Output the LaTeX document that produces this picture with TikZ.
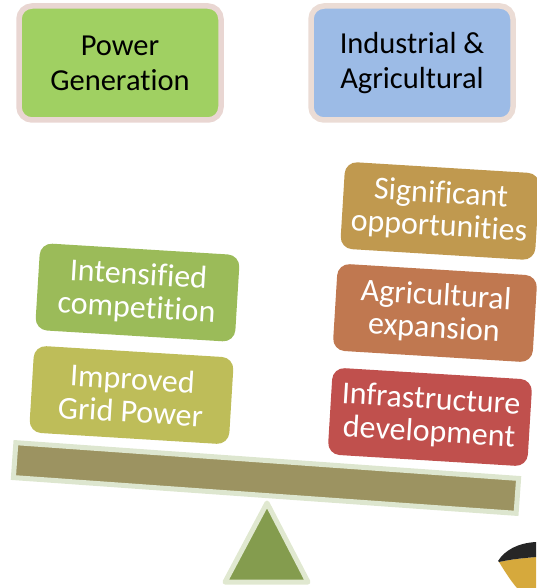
\documentclass[tikz,border=0pt]{standalone}
\usepackage{fontspec}
\setmainfont[RawFeature={-liga}]{Carlito}
\begin{document}
\begin{tikzpicture}[x=1pt,y=-1pt,
  header/.style={draw=#1, line width=5.5pt, rounded corners=13pt, align=center,
    minimum width=202pt, minimum height=114pt, text=black,
    font=\fontsize{30.5}{35}\selectfont},
  item/.style={fill=#1, rounded corners=12pt, align=center, rotate=-3.5,
    minimum width=200pt, minimum height=87pt, text=white, inner sep=0pt,
    font=\fontsize{32}{33}\selectfont},
]
\definecolor{pgFill}{HTML}{A0D062}
\definecolor{pgEdge}{HTML}{E9D6D2}
\definecolor{iaFill}{HTML}{9CBBE6}
\definecolor{iaEdge}{HTML}{EBDCD5}
\definecolor{olive}{HTML}{9BBB59}
\definecolor{khaki}{HTML}{BEBD59}
\definecolor{ochre}{HTML}{C0994F}
\definecolor{terra}{HTML}{C07850}
\definecolor{brick}{HTML}{C0504D}
\definecolor{beamFill}{HTML}{9C9361}
\definecolor{beamEdge}{HTML}{DDE6CF}
\definecolor{pivotFill}{HTML}{849C4E}
\definecolor{pivotEdge}{HTML}{E0E8D0}
\definecolor{skin}{HTML}{D6A93C}

\useasboundingbox (0,0) rectangle (536,588);

% headings
\node[header=pgEdge, fill=pgFill] (power) at (120,63) {Power\\Generation};
\node[header=iaEdge, fill=iaFill] (indus) at (412,63) {Industrial \&\\Agricultural};

% beam and pivot of the balance
\node[draw=beamEdge, fill=beamFill, line width=5pt, rotate=-4.07,
  minimum width=504pt, minimum height=35pt, inner sep=0pt] (beam) at (266,478) {};
\coordinate (apex) at (267,503);
\coordinate (baseL) at (225,582);
\coordinate (baseR) at (308,582);
\draw[draw=pivotEdge, fill=pivotFill, line width=5pt, line join=round]
  (apex) -- (baseL) -- (baseR) -- cycle;

% weights on the left pan
\node[item=olive] (compet) at (137.5,292.5) {Intensified\\competition};
\node[item=khaki] (grid) at (131.5,395) {Improved\\Grid Power};

% weights on the right pan
\node[item=ochre, minimum width=195pt] (opport) at (440,211) {Significant\\opportunities};
\node[item=terra] (agri) at (435,313) {Agricultural\\expansion};
\node[item=brick] (infra) at (430,417) {Infrastructure\\development};

% figure peeking in at the lower right corner
\fill[skin] (499,562) .. controls (512,559) and (525,558) .. (536,557)
  -- (536,588) -- (517,588) .. controls (510,580) and (504,570) .. cycle;
\fill[black!85] (498,561) .. controls (505,550) and (518,543) .. (536,542)
  -- (536,557) .. controls (525,558) and (512,559) .. (499,562) -- cycle;
\end{tikzpicture}
\end{document}
